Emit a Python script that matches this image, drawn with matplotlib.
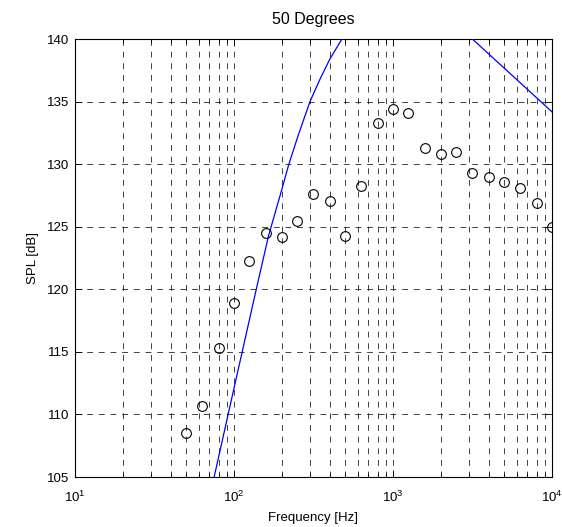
import matplotlib
matplotlib.use("Agg")
import matplotlib.pyplot as plt
from matplotlib.ticker import LogLocator, NullFormatter

plt.rcParams['font.family'] = ['Liberation Sans', 'DejaVu Sans']
plt.rcParams['mathtext.fontset'] = 'custom'
plt.rcParams['mathtext.rm'] = 'Liberation Sans'
plt.rcParams['mathtext.it'] = 'Liberation Sans:italic'

# Measured SPL at third-octave band centres
freq_meas = [50, 63, 80, 100, 125, 160, 200, 250, 315, 400, 500, 630, 800,
             1000, 1250, 1600, 2000, 2500, 3150, 4000, 5000, 6300, 8000, 10000]
spl_meas = [108.5, 110.7, 115.3, 118.9, 122.3, 124.5, 124.2, 125.5, 127.6,
            127.1, 124.3, 128.3, 133.3, 134.4, 134.1, 131.3, 130.8, 131.0,
            129.3, 129.0, 128.6, 128.1, 126.9, 125.0]

# Predicted curve, low-frequency branch
freq_low = [70, 75, 100, 138, 165, 200, 220, 250, 300, 350, 400, 476, 550]
spl_low = [103.4, 105.0, 112.1, 120.0, 124.3, 128.0, 129.9, 132.1, 135.0,
           136.9, 138.4, 140.0, 141.3]

# Predicted curve, high-frequency branch
freq_high = [2500, 10000]
spl_high = [141.2, 134.2]

fig = plt.figure(figsize=(5.62, 5.27), dpi=100)
ax = fig.add_axes([75 / 562, 1 - 477 / 527, 477 / 562, 437.7 / 527])

ax.semilogx(freq_low, spl_low, color='#0000ff', lw=0.9, zorder=3)
ax.semilogx(freq_high, spl_high, color='#0000ff', lw=0.9, zorder=3)
ax.semilogx(freq_meas, spl_meas, linestyle='none', marker='o', ms=7,
            mfc='none', mec='black', mew=0.8, zorder=4)

ax.set_xlim(10, 1e4)
ax.set_ylim(105, 140)
ax.set_yticks([105, 110, 115, 120, 125, 130, 135, 140])
ax.xaxis.set_major_locator(LogLocator(base=10))
ax.xaxis.set_minor_locator(LogLocator(base=10, subs=range(2, 10)))
ax.xaxis.set_minor_formatter(NullFormatter())

ax.grid(True, which='major', axis='both', color='#222222', lw=0.6,
        linestyle=(0, (7, 7)))
ax.grid(True, which='minor', axis='x', color='#222222', lw=0.6,
        linestyle=(0, (7, 7)))

ax.tick_params(which='both', direction='in', top=True, right=True,
               labelsize=9.5, colors='black')
ax.tick_params(which='major', length=5, width=0.6, pad=4)
ax.tick_params(which='minor', length=3, width=0.6)
ax.tick_params(axis='x', which='major', pad=9)
for s in ax.spines.values():
    s.set_linewidth(0.8)

ax.set_title('50 Degrees', fontsize=11.5, pad=11)
ax.set_xlabel('Frequency [Hz]', fontsize=9.5, labelpad=5)
ax.set_ylabel('SPL [dB]', fontsize=9.5, labelpad=6)

fig.savefig('out.png', dpi=100, facecolor='white')
